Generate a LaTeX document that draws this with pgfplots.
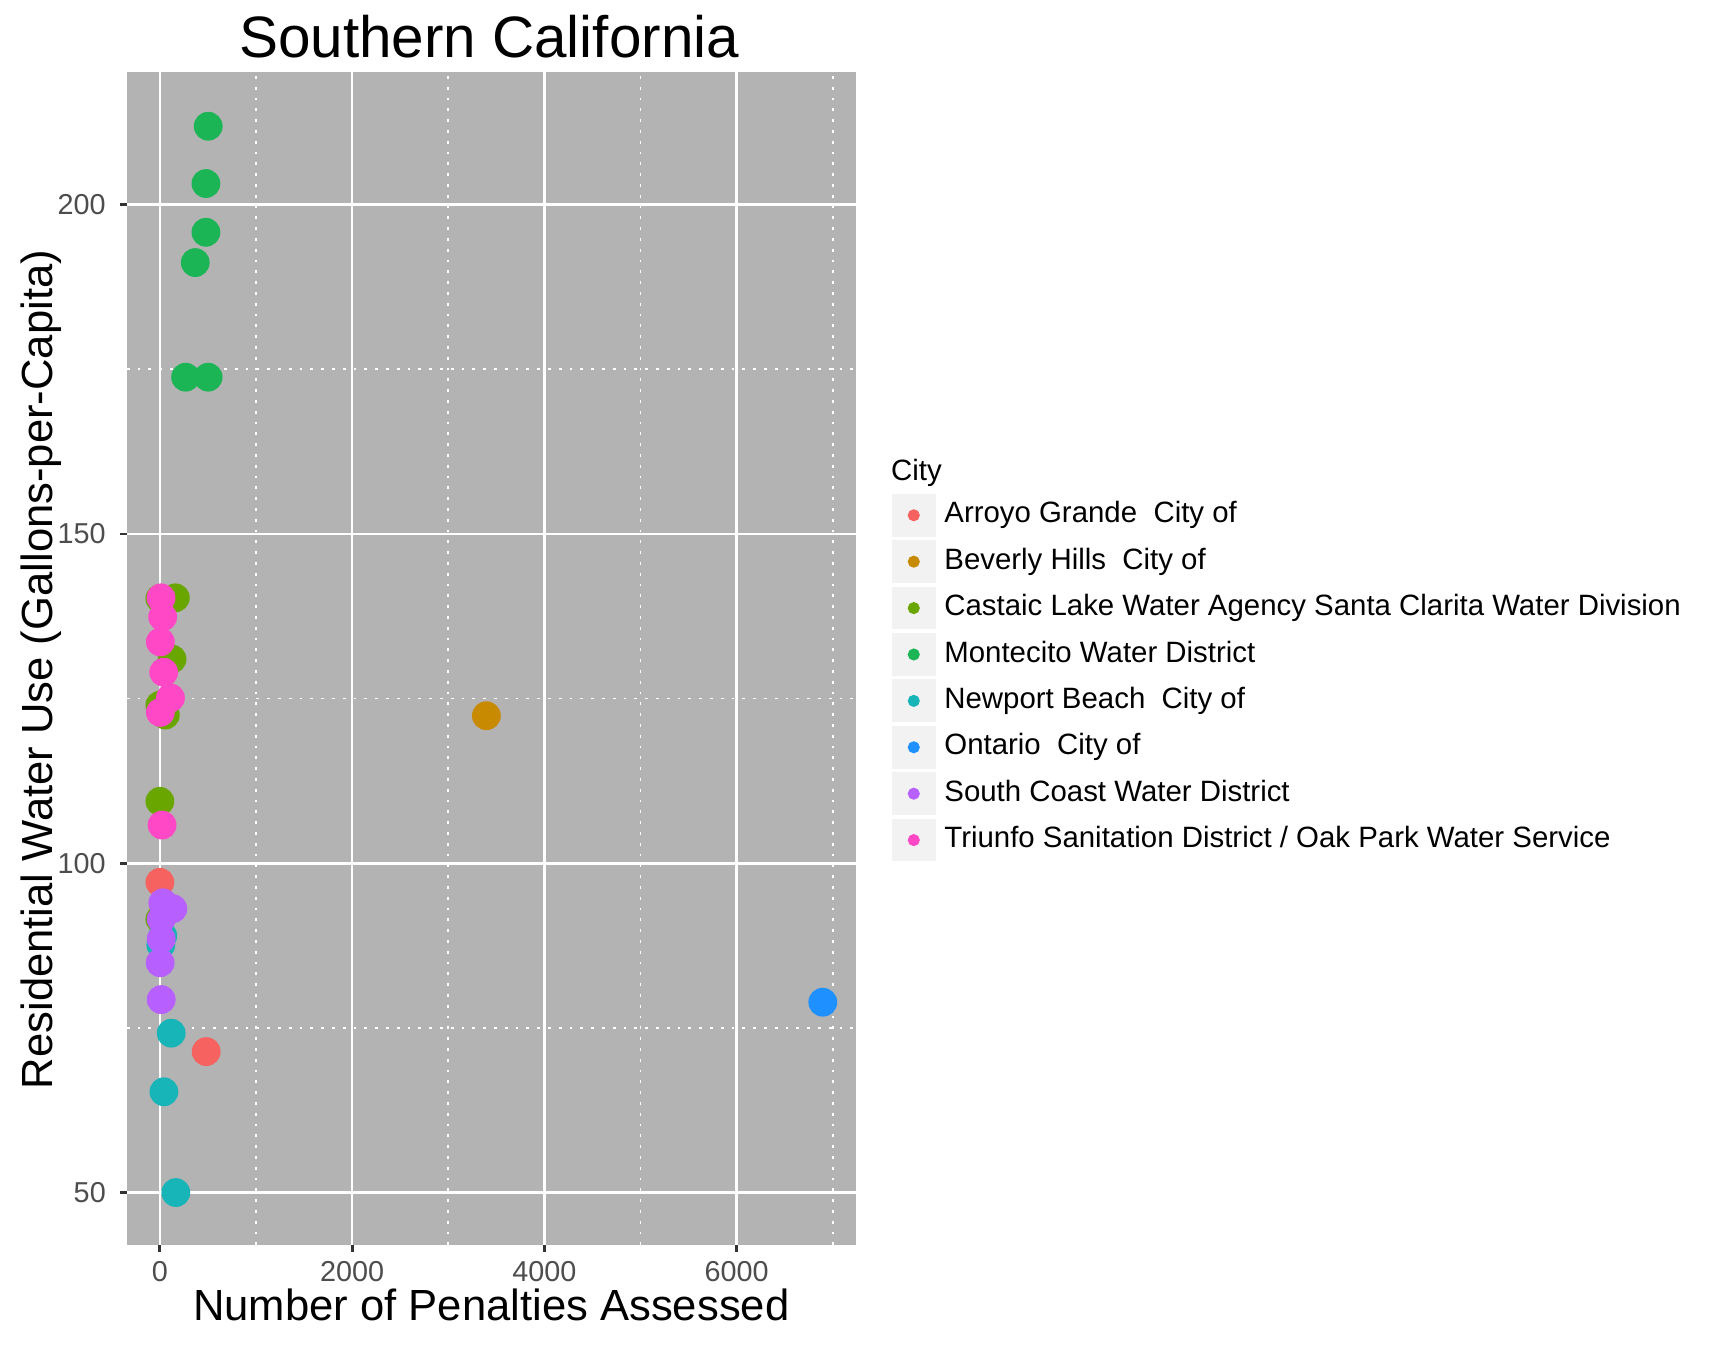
\documentclass[border=0pt]{standalone}
\usepackage{fontspec}
\setmainfont{Liberation Sans}
\usepackage{pgfplots}
\pgfplotsset{compat=1.18}
\definecolor{cA}{HTML}{F5625F}
\definecolor{cB}{HTML}{C88A00}
\definecolor{cC}{HTML}{6AA600}
\definecolor{cD}{HTML}{1BB556}
\definecolor{cE}{HTML}{17B4B8}
\definecolor{cF}{HTML}{1E90FF}
\definecolor{cG}{HTML}{B75FFF}
\definecolor{cH}{HTML}{FF48C6}
\definecolor{panel}{HTML}{B3B3B3}
\definecolor{keybg}{HTML}{F2F2F2}
\definecolor{ticklab}{HTML}{4D4D4D}
\definecolor{tickcol}{HTML}{333333}
\begin{document}
\begin{tikzpicture}
\useasboundingbox (-31.675pt,-24.75pt) rectangle (400.3pt,311.3pt);
\begin{axis}[
  scale only axis, width=182.3pt, height=293.4pt,
  xmin=-345, xmax=7242, ymin=42, ymax=220.2,
  xtick={0,2000,4000,6000}, ytick={50,100,150,200},
  minor xtick={1000,3000,5000,7000}, minor ytick={75,125,175},
  grid=both,
  major grid style={white, line width=0.65pt},
  minor grid style={white, line width=0.4pt, dash pattern=on 0.7pt off 2pt},
  axis background/.style={fill=panel},
  axis line style={draw=none},
  tick align=outside, tick pos=left,
  major tick length=1.7pt, minor tick length=0pt,
  tick style={tickcol, line width=0.7pt},
  ticklabel style={font=\fontsize{7.2}{8}\selectfont, text=ticklab},
  xticklabel style={yshift=1.1pt},
  /pgf/number format/assume math mode=true,
  /pgf/number format/1000 sep={},
  scaled ticks=false,
  every axis title shift=0pt,
  title={Southern California},
  title style={font=\fontsize{14.6}{17}\selectfont, anchor=base, yshift=0pt, at={(axis description cs:0.497,1.0123)}},
  xlabel={Number of Penalties Assessed},
  xlabel style={font=\fontsize{10.9}{13}\selectfont, anchor=base, at={(axis description cs:0.5,-0.0637)}},
  ylabel={Residential Water Use (Gallons-per-Capita)},
  ylabel style={font=\fontsize{10.9}{13}\selectfont, anchor=base, at={(axis description cs:-0.1015,0.4905)}},
  legend style={at={(axis description cs:1.0494,0.6402)}, anchor=north west, draw=none, fill=none,
    inner sep=0pt, outer sep=0pt, row sep=0.9pt, column sep=2.2pt,
    font=\fontsize{7.35}{8}\selectfont, nodes={inner sep=0pt, outer sep=0pt}},
  legend cell align=left,
  legend image code/.code={\fill[keybg] (0pt,-5.15pt) rectangle (10.5pt,5.15pt); \fill (5.25pt,0pt) circle (1.3pt);},
  every axis plot/.append style={only marks, mark=*, mark size=3.4pt},
]
\addplot[color=cA] coordinates {(0,97.1) (482,71.4)};
\addlegendentry{Arroyo Grande\ \ City of}
\addplot[color=cB] coordinates {(3397,122.4)};
\addlegendentry{Beverly Hills\ \ City of}
\addplot[color=cC] coordinates {(161,140.3) (0,140.2) (127,131.0) (0,124.0) (57,122.5) (0,109.4) (0,91.5)};
\addlegendentry{Castaic Lake Water Agency Santa Clarita Water Division}
\addplot[color=cD] coordinates {(503,211.9) (479,203.2) (479,195.8) (368,191.2) (268,173.8) (502,173.8)};
\addlegendentry{Montecito Water District}
\addplot[color=cE] coordinates {(118,74.2) (42,65.3) (166,50.0) (30,89.0) (10,87.6)};
\addlegendentry{Newport Beach\ \ City of}
\addplot[color=cF] coordinates {(6897,78.9)};
\addlegendentry{Ontario\ \ City of}
\addplot[color=cG] coordinates {(31,94.0) (135,93.1) (14,91.5) (14,88.5) (3,84.9) (14,79.3)};
\addlegendentry{South Coast Water District}
\addplot[color=cH] coordinates {(12,140.3) (29,137.4) (5,133.6) (40,129.0) (110,125.1) (5,122.9) (23,105.8)};
\addlegendentry{Triunfo Sanitation District / Oak Park Water Service}
\end{axis}
\node[anchor=base west, font=\fontsize{7.35}{8}\selectfont, inner sep=0pt] at (190.9pt,191.2pt) {City};
\end{tikzpicture}
\end{document}
